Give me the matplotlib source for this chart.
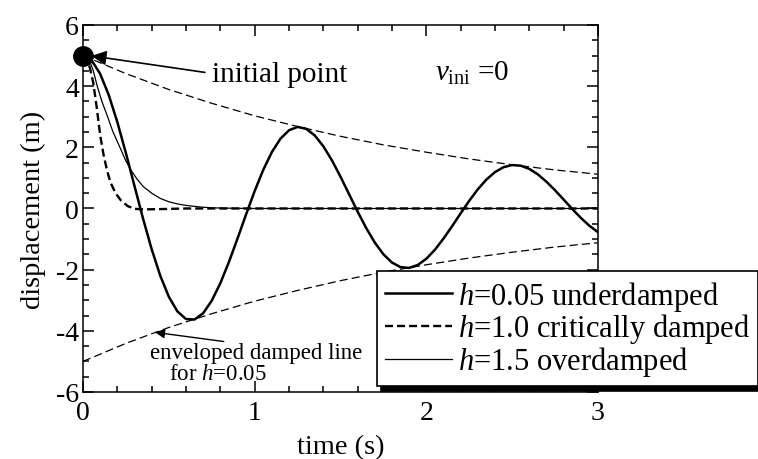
import matplotlib
matplotlib.use("Agg")
import matplotlib.pyplot as plt
from matplotlib.ticker import MultipleLocator

plt.rcParams['font.family'] = 'Liberation Serif'
plt.rcParams['mathtext.fontset'] = 'custom'
plt.rcParams['mathtext.rm'] = 'Liberation Serif'
plt.rcParams['mathtext.it'] = 'Liberation Serif:italic'
plt.rcParams['axes.unicode_minus'] = False

# h=0.05, underdamped response (sampled every 0.05 s)
t_under = [0.00, 0.05, 0.10, 0.15, 0.20, 0.25, 0.30, 0.35, 0.40, 0.45,
           0.50, 0.55, 0.60, 0.65, 0.70, 0.75, 0.80, 0.85, 0.90, 0.95,
           1.00, 1.05, 1.10, 1.15, 1.20, 1.25, 1.30, 1.35, 1.40, 1.45,
           1.50, 1.55, 1.60, 1.65, 1.70, 1.75, 1.80, 1.85, 1.90, 1.95,
           2.00, 2.05, 2.10, 2.15, 2.20, 2.25, 2.30, 2.35, 2.40, 2.45,
           2.50, 2.55, 2.60, 2.65, 2.70, 2.75, 2.80, 2.85, 2.90, 2.95, 3.00]
x_under = [5.000, 4.845, 4.402, 3.710, 2.825, 1.810, 0.734, -0.335, -1.331, -2.197,
           -2.887, -3.366, -3.615, -3.630, -3.423, -3.016, -2.444, -1.751, -0.984, -0.194,
           0.570, 1.262, 1.841, 2.280, 2.558, 2.667, 2.605, 2.388, 2.035, 1.576,
           1.040, 0.468, -0.105, -0.643, -1.116, -1.498, -1.768, -1.918, -1.943, -1.848,
           -1.644, -1.349, -0.985, -0.580, -0.159, 0.252, 0.628, 0.946, 1.190, 1.351,
           1.420, 1.399, 1.294, 1.114, 0.874, 0.595, 0.291, -0.016, -0.307, -0.565, -0.775]

# h=1.0, critically damped
t_crit = [0.00, 0.02, 0.04, 0.06, 0.08, 0.10, 0.12, 0.14, 0.16, 0.19,
          0.22, 0.26, 0.30, 0.35, 0.45, 0.60, 3.00]
x_crit = [5.00, 4.90, 4.60, 4.10, 3.30, 2.40, 1.75, 1.25, 0.85, 0.50,
          0.27, 0.08, -0.01, -0.03, -0.02, 0.00, 0.00]

# h=1.5, overdamped
t_over = [0.00, 0.02, 0.04, 0.06, 0.083, 0.11, 0.14, 0.175, 0.215, 0.25,
          0.28, 0.315, 0.35, 0.40, 0.45, 0.50, 0.55, 0.60, 0.65, 0.70,
          0.76, 0.85, 1.00, 3.00]
x_over = [5.00, 4.95, 4.80, 4.50, 4.00, 3.50, 3.05, 2.50, 2.00, 1.55,
          1.25, 0.96, 0.72, 0.50, 0.33, 0.22, 0.15, 0.10, 0.07, 0.04,
          0.02, 0.01, 0.00, 0.00]

# decay envelope for h=0.05
t_env = [0.00, 0.25, 0.50, 0.75, 1.00, 1.25, 1.50, 1.75, 2.00, 2.25, 2.50, 2.75, 3.00]
env_upper = [5.00, 4.41, 3.89, 3.44, 3.03, 2.68, 2.36, 2.08, 1.84, 1.62, 1.43, 1.26, 1.12]
env_lower = [-5.00, -4.41, -3.89, -3.44, -3.03, -2.68, -2.36, -2.08, -1.84, -1.62, -1.43, -1.26, -1.12]

x0, y0 = 0.0, 5.0

fig = plt.figure(figsize=(7.58, 4.6), dpi=100)
ax = fig.add_axes([0.1095, 0.1457, 0.6794, 0.7978])

ax.plot(t_env, env_upper, color='k', lw=0.9, dashes=(6.5, 3.3))
ax.plot(t_env, env_lower, color='k', lw=0.9, dashes=(6.5, 3.3))
l1, = ax.plot(t_under, x_under, color='k', lw=1.8, label='$h$=0.05 underdamped')
l2, = ax.plot(t_crit, x_crit, color='k', lw=1.7, dashes=(3.4, 1.7),
              label='$h$=1.0 critically damped')
l3, = ax.plot(t_over, x_over, color='k', lw=0.9, label='$h$=1.5 overdamped')
ax.plot([x0], [y0], 'o', color='k', ms=14, clip_on=False, zorder=6)

ax.set_xlim(0, 3)
ax.set_ylim(-6, 6)
ax.xaxis.set_major_locator(MultipleLocator(1))
ax.xaxis.set_minor_locator(MultipleLocator(0.2))
ax.yaxis.set_major_locator(MultipleLocator(2))
ax.yaxis.set_minor_locator(MultipleLocator(0.5))
ax.tick_params(which='both', direction='in', top=True, right=True, width=1.1,
               labelsize=20)
ax.tick_params(axis='x', which='major', pad=6)
ax.tick_params(axis='y', which='major', pad=3)
ax.tick_params(which='major', length=8)
ax.tick_params(which='minor', length=4.5)
for s in ax.spines.values():
    s.set_linewidth(1.1)

ax.set_xlabel('time (s)', fontsize=20.5, labelpad=6)
ax.set_ylabel('displacement (m)', fontsize=20.5, labelpad=7)

# notes
ax.text(0.75, 4.41, 'initial point', fontsize=21, va='center')
ax.annotate('', xy=(0.05, 4.99), xytext=(0.71, 4.45),
            arrowprops=dict(arrowstyle='-|>', color='k', lw=1.2,
                            mutation_scale=22, shrinkA=0, shrinkB=0))
ax.text(2.05, 4.45, r'$v_{\mathrm{ini}}$ =0', fontsize=21, va='center')

ax.text(0.39, -4.7, 'enveloped damped line', fontsize=16.5, va='center')
ax.text(0.5, -5.4, 'for $h$=0.05', fontsize=16.5, va='center')
ax.annotate('', xy=(0.42, -4.05), xytext=(0.82, -4.35),
            arrowprops=dict(arrowstyle='-|>', color='k', lw=1.0,
                            mutation_scale=14, shrinkA=0, shrinkB=0))

leg = ax.legend(handles=[l1, l2, l3], loc='upper left',
                bbox_to_anchor=(377 / 758, 1 - 272 / 460), bbox_transform=fig.transFigure,
                fontsize=22, frameon=True, fancybox=False, edgecolor='k', framealpha=1,
                shadow={'ox': 3, 'oy': -3.5, 'facecolor': 'k', 'edgecolor': 'k', 'alpha': 1},
                handlelength=2.2, handletextpad=0.2, labelspacing=-0.04,
                borderpad=0.25, borderaxespad=0)
leg.get_frame().set_linewidth(1.2)

fig.savefig('out.png', dpi=100)
